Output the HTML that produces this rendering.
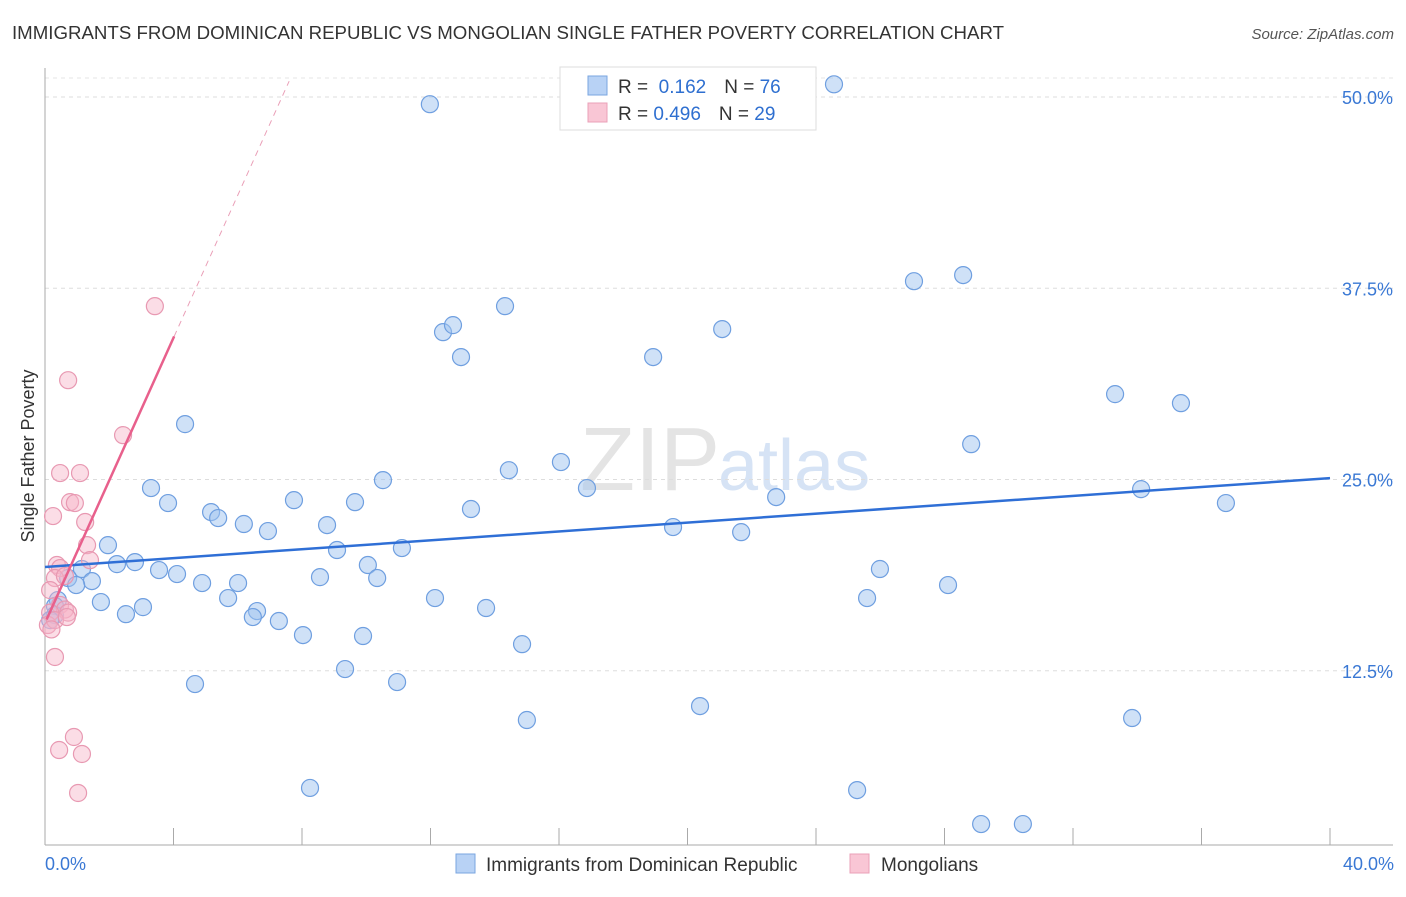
<!DOCTYPE html>
<html><head><meta charset="utf-8"><style>
body{margin:0;background:#fff;font-family:"Liberation Sans",sans-serif}
svg text{font-family:"Liberation Sans",sans-serif}
</style></head><body>
<svg id="c" width="1406" height="892" viewBox="0 0 1406 892">
<text x="12" y="39" font-size="18" fill="#333" textLength="992" lengthAdjust="spacingAndGlyphs">IMMIGRANTS FROM DOMINICAN REPUBLIC VS MONGOLIAN SINGLE FATHER POVERTY CORRELATION CHART</text>
<text x="1394" y="39" font-size="15" fill="#555" font-style="italic" text-anchor="end">Source: ZipAtlas.com</text>
<text x="720" y="490" font-size="90" fill="#e4e4e4" text-anchor="end" font-family="Liberation Serif">ZIP</text>
<text x="718" y="490" font-size="72" fill="#d6e3f5">atlas</text>
<g id="grid"></g><g id="axes"></g>
<text transform="translate(34,456) rotate(-90)" font-size="18" fill="#333" text-anchor="middle">Single Father Poverty</text>
<g id="pts"></g><g id="trend"></g>
<g>
<rect x="560" y="67" width="256" height="63" fill="#fff" stroke="#ddd"/>
<rect x="588" y="76" width="19" height="19" fill="#b8d2f5" stroke="#7aa6e0"/>
<rect x="588" y="103" width="19" height="19" fill="#f9c6d5" stroke="#eaa0b8"/>
<text x="618" y="93" font-size="19" fill="#333">R = <tspan fill="#2e6fd0">&#160;0.162</tspan><tspan dx="18">N = </tspan><tspan fill="#2e6fd0">76</tspan></text>
<text x="618" y="120" font-size="19" fill="#333">R = <tspan fill="#2e6fd0">0.496</tspan><tspan dx="18">N = </tspan><tspan fill="#2e6fd0">29</tspan></text>
</g>
<g>
<rect x="456" y="854" width="19" height="19" fill="#b8d2f5" stroke="#7aa6e0"/>
<text x="486" y="871" font-size="19" fill="#333">Immigrants from Dominican Republic</text>
<rect x="850" y="854" width="19" height="19" fill="#f9c6d5" stroke="#eaa0b8"/>
<text x="881" y="871" font-size="19" fill="#333">Mongolians</text>
</g>
</svg>
<script>
const blueX=[11.98,24.56,27.05,28.58,14.32,12.39,12.70,12.95,18.93,21.08,33.31,35.36,4.36,28.83,16.06,14.44,10.52,3.30,16.87,34.12,7.75,9.65,22.76,3.83,36.76,5.17,13.26,5.39,6.19,8.78,6.94,19.55,21.67,1.96,9.09,11.11,2.24,2.80,1.15,3.55,10.05,4.11,8.56,10.34,25.99,0.72,1.46,0.97,4.89,6.01,28.11,5.70,12.14,25.59,1.74,0.40,0.31,6.60,3.05,6.47,13.73,2.52,7.28,8.03,9.90,14.85,9.34,4.67,10.96,20.39,15.00,33.84,8.25,25.28,29.14,30.44,0.31,0.16];
const blueY=[49.53,50.83,37.96,38.36,36.33,34.63,35.09,33.00,33.00,34.83,30.58,29.99,28.62,27.31,26.14,25.61,24.96,24.44,24.44,24.37,23.65,23.52,23.85,23.46,23.46,22.87,23.07,22.48,22.09,22.02,21.63,21.89,21.56,20.71,20.39,20.52,19.47,19.60,19.15,19.08,19.41,18.82,18.62,18.56,19.15,18.56,18.36,18.10,18.23,18.23,18.10,17.25,17.25,17.25,16.99,17.12,16.73,16.40,16.66,16.01,16.60,16.20,15.75,14.83,14.77,14.24,12.61,11.63,11.76,10.19,9.28,9.41,4.84,4.70,2.48,2.48,16.14,15.81];
const pinkX=[3.42,0.72,2.43,0.47,1.09,0.78,0.93,0.25,1.25,1.31,1.40,0.37,0.47,0.31,0.62,0.16,0.47,0.62,0.16,0.72,0.09,0.31,0.68,0.31,0.90,0.44,1.15,1.03,0.20];
const pinkY=[36.33,31.49,27.90,25.42,25.42,23.52,23.46,22.61,22.22,20.71,19.73,19.41,19.21,18.56,18.69,17.77,16.8,16.5,16.3,16.3,15.49,15.81,16.01,13.40,8.17,7.32,7.06,4.51,15.2];
const blueTrend=[19.28,25.09];
const pinkTrend=[15.62,4.66];
const pinkSolidEnd=4.02, pinkDashEnd=7.6;
const yTicks=[12.5,25,37.5,50];
const xTickLabels=["0.0%","40.0%"];
const NS="http://www.w3.org/2000/svg";
const X=v=>45+v*1285/40, Y=v=>862-v*765/50;
function mk(t,a,p){const e=document.createElementNS(NS,t);for(const k in a)e.setAttribute(k,a[k]);p.appendChild(e);return e;}
const grid=document.getElementById('grid'),axes=document.getElementById('axes');
yTicks.forEach(t=>{
 const l=mk('line',{x1:45,x2:1393,y1:Y(t),y2:Y(t),stroke:'#ddd','stroke-dasharray':'4,4'},grid);
 
 
 const tx=mk('text',{x:1393,y:Y(t)+7,'font-size':18,fill:'#3a78d4','text-anchor':'end'},axes);
 tx.textContent=t.toFixed(1)+'%';
 
 
});
const topLine=mk('line',{x1:45,x2:1393,y1:78,y2:78,stroke:'#e4e4e4','stroke-dasharray':'4,4'},grid);


const ya=mk('line',{x1:45,x2:45,y1:68,y2:845,stroke:'#aaa'},axes);


const xa=mk('line',{x1:45,x2:1393,y1:845,y2:845,stroke:'#aaa'},axes);


for(let i=1;i<=10;i++){
 const t=mk('line',{x1:X(i*4),x2:X(i*4),y1:828,y2:845,stroke:'#aaa'},axes);
 
 
}
[[0,'start',45],[1,'end',1394]].forEach(([i,a,x])=>{
 const t=mk('text',{x:x,y:870,'font-size':18,fill:'#3a78d4','text-anchor':a},axes);
 t.textContent=xTickLabels[i];
 
 
});
const pts=document.getElementById('pts');
blueX.forEach((v,i)=>{
 const c=mk('circle',{cx:X(v),cy:Y(blueY[i]),r:8.5,fill:'rgba(160,196,240,0.5)',stroke:'#6f9fe0','stroke-width':1.2},pts);
 
 
});
pinkX.forEach((v,i)=>{
 const c=mk('circle',{cx:X(v),cy:Y(pinkY[i]),r:8.5,fill:'rgba(247,180,200,0.45)',stroke:'#e899b2','stroke-width':1.2},pts);
 
 
});
const tr=document.getElementById('trend');
const bl=mk('line',{x1:X(0),y1:Y(blueTrend[0]),x2:X(40),y2:Y(blueTrend[1]),stroke:'#2f6fd6','stroke-width':2.5},tr);


const pl=mk('line',{x1:X(0.05),y1:Y(pinkTrend[0]+0.05*pinkTrend[1]),x2:X(pinkSolidEnd),y2:Y(pinkTrend[0]+pinkSolidEnd*pinkTrend[1]),stroke:'#e8608c','stroke-width':2.5},tr);


const pd=mk('line',{x1:X(pinkSolidEnd),y1:Y(pinkTrend[0]+pinkSolidEnd*pinkTrend[1]),x2:X(pinkDashEnd),y2:Y(pinkTrend[0]+pinkDashEnd*pinkTrend[1]),stroke:'#eaa0b8','stroke-width':1,'stroke-dasharray':'6,5'},tr);


</script>
</body></html>
